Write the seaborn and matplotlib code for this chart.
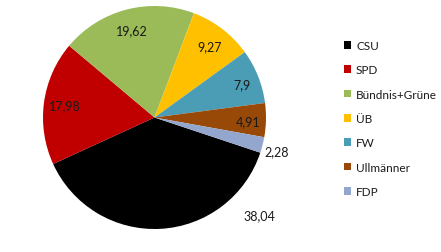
import numpy as np
import matplotlib
matplotlib.use("Agg")
import matplotlib.pyplot as plt
import seaborn as sns

sns.set_theme(style="white")
plt.rcParams['font.family'] = ['Lato', 'DejaVu Sans']

parties = ["CSU", "SPD", "Bündnis+Grüne", "ÜB", "FW", "Ullmänner", "FDP"]
shares = [38.04, 17.98, 19.62, 9.27, 7.9, 4.91, 2.28]
value_labels = ["38,04", "17,98", "19,62", "9,27", "7,9", "4,91", "2,28"]
colors = ["#000000", "#C00000", "#9BBB59", "#FFC000", "#4A9DB5", "#984807", "#93A7CE"]

# label placement style (radius fraction, angle shift in degrees)
label_r = [1.29, 0.81, 0.81, 0.81, 0.84, 0.84, 1.14]
label_shift = [43.9, 0, 0, 0, -1.0, -0.8, -1.0]

W, H = 441, 253
fig = plt.figure(figsize=(W / 100, H / 100), dpi=100)
fig.patch.set_facecolor("white")

cx, cy, R = 154.5, 118.5, 111.5
ax = fig.add_axes([(cx - R) / W, (H - cy - R) / H, 2 * R / W, 2 * R / H])
wedges, _ = ax.pie(shares, colors=colors, startangle=-18.4, counterclock=False,
                   radius=1, wedgeprops=dict(linewidth=0))
ax.set_xlim(-1, 1)
ax.set_ylim(-1, 1)
ax.set_aspect("equal")
ax.axis("off")

for w, lab, r, s in zip(wedges, value_labels, label_r, label_shift):
    ang = np.deg2rad((w.theta1 + w.theta2) / 2 + s)
    ax.text(r * np.cos(ang), r * np.sin(ang), lab, ha="center", va="center",
            fontsize=9, color="#1a1a1a", clip_on=False)

leg = fig.legend(wedges, parties, loc="upper left",
                 bbox_to_anchor=(344 / W, 1 - 41 / H), frameon=False,
                 borderaxespad=0, borderpad=0, fontsize=8.5,
                 handlelength=0.62, handleheight=0.62, handletextpad=0.4,
                 labelspacing=1.13)
for t in leg.get_texts():
    t.set_color("#1a1a1a")

fig.savefig("out.png", dpi=100, facecolor="white")
